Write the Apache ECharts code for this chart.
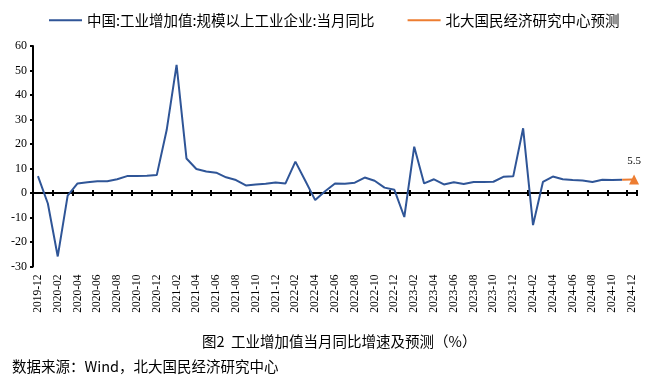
<!DOCTYPE html>
<html>
<head>
<meta charset="utf-8">
<script src="https://cdn.jsdelivr.net/npm/echarts@6/dist/echarts.min.js"></script>
<style>html,body{margin:0;padding:0;background:#fff}#c{width:656px;height:380px}</style>
</head>
<body>
<div id="c"></div>
<script>
const categories = [
 '2019-12',
 '2020-01','2020-02','2020-03','2020-04','2020-05','2020-06','2020-07','2020-08','2020-09','2020-10','2020-11','2020-12',
 '2021-01','2021-02','2021-03','2021-04','2021-05','2021-06','2021-07','2021-08','2021-09','2021-10','2021-11','2021-12',
 '2022-01','2022-02','2022-03','2022-04','2022-05','2022-06','2022-07','2022-08','2022-09','2022-10','2022-11','2022-12',
 '2023-01','2023-02','2023-03','2023-04','2023-05','2023-06','2023-07','2023-08','2023-09','2023-10','2023-11','2023-12',
 '2024-01','2024-02','2024-03','2024-04','2024-05','2024-06','2024-07','2024-08','2024-09','2024-10','2024-11','2024-12'
];
const actualName = '中国:工业增加值:规模以上工业企业:当月同比';
const forecastName = '北大国民经济研究中心预测';
const actualValues = [
 6.9,
 -4.3,-25.9,-1.1,3.9,4.4,4.8,4.8,5.6,6.9,6.9,7.0,7.3,
 25.7,52.3,14.1,9.8,8.8,8.3,6.4,5.3,3.1,3.5,3.8,4.3,
 3.9,12.8,5.0,-2.9,0.7,3.9,3.8,4.2,6.3,5.0,2.2,1.3,
 -9.8,18.9,3.9,5.6,3.5,4.4,3.7,4.5,4.5,4.6,6.6,6.8,
 26.4,-13.1,4.5,6.7,5.6,5.3,5.1,4.5,5.4,5.3,5.4,null
];
const forecastValues = [
 null,
 null,null,null,null,null,null,null,null,null,null,null,null,
 null,null,null,null,null,null,null,null,null,null,null,null,
 null,null,null,null,null,null,null,null,null,null,null,null,
 null,null,null,null,null,null,null,null,null,null,null,null,
 null,null,null,null,null,null,null,null,null,null,5.4,5.5
];
const yTicks = { min: -30, max: 60, interval: 10 };
const titleText = '图2  工业增加值当月同比增速及预测（%）';
const sourceText = '数据来源：Wind，北大国民经济研究中心';

const chart = echarts.init(document.getElementById('c'), null, { renderer: 'canvas' });
const serif = 'Liberation Serif, Times New Roman, serif';
const cjk = 'Noto Sans CJK SC';
const blue = '#2F5597';
const orange = '#ED7D31';

const forecastData = forecastValues.map((v, i) => {
  if (v == null) return null;
  if (i === categories.length - 1) {
    return {
      value: v, symbol: 'triangle', symbolSize: 10, symbolOffset: [2, 0],
      label: { show: true, position: 'top', distance: 8, color: '#000', fontFamily: serif, fontSize: 11 }
    };
  }
  return { value: v, symbol: 'none' };
});

const gridBox = { left: 33, right: 19, top: 46, bottom: 113.5 };
const tickStyle = { color: '#000', width: 2 };

chart.setOption({
  animation: false,
  backgroundColor: '#fff',
  grid: [Object.assign({}, gridBox), Object.assign({}, gridBox)],
  legend: {
    top: 8, left: 44, itemWidth: 33, itemHeight: 2, itemGap: 33,
    textStyle: { fontFamily: cjk, fontSize: 14.5, color: '#000' },
    data: [{ name: actualName, icon: 'rect' }, { name: forecastName, icon: 'rect' }]
  },
  xAxis: [
    {
      type: 'category', gridIndex: 0, data: categories, boundaryGap: true, position: 'bottom',
      axisLine: { show: false, onZero: false }, axisTick: { show: false },
      axisLabel: { interval: 1, rotate: 90, fontFamily: serif, fontSize: 11.5, color: '#000', margin: 8 }
    },
    {
      type: 'category', gridIndex: 0, data: categories, boundaryGap: true, position: 'top',
      axisLine: { show: true, onZero: true, lineStyle: tickStyle },
      axisTick: { show: true, interval: 1, length: 3, inside: true, lineStyle: tickStyle },
      axisLabel: { show: false }
    },
    {
      type: 'category', gridIndex: 1, data: categories, boundaryGap: true, position: 'top',
      axisLine: { show: true, onZero: true, lineStyle: tickStyle },
      axisTick: { show: true, interval: 1, length: 3, inside: false, lineStyle: tickStyle },
      axisLabel: { show: false }
    }
  ],
  yAxis: [
    {
      type: 'value', gridIndex: 0, min: yTicks.min, max: yTicks.max, interval: yTicks.interval,
      axisLine: { show: true, onZero: false, lineStyle: tickStyle },
      axisTick: { show: true, length: 3, lineStyle: tickStyle },
      splitLine: { show: false },
      axisLabel: { fontFamily: serif, fontSize: 12, color: '#000', margin: 6 }
    },
    {
      type: 'value', gridIndex: 1, min: yTicks.min, max: yTicks.max, interval: yTicks.interval,
      axisLine: { show: false, onZero: false }, axisTick: { show: false },
      splitLine: { show: false }, axisLabel: { show: false }
    }
  ],
  series: [
    {
      name: actualName, type: 'line', xAxisIndex: 0, yAxisIndex: 0, data: actualValues, symbol: 'none',
      lineStyle: { color: blue, width: 2 }, itemStyle: { color: blue }, z: 3
    },
    {
      name: forecastName, type: 'line', xAxisIndex: 0, yAxisIndex: 0, data: forecastData, symbol: 'none',
      lineStyle: { color: orange, width: 2 }, itemStyle: { color: orange }, z: 4
    }
  ],
  graphic: [
    { type: 'text', left: 202, top: 334, style: { text: titleText, font: '14.5px ' + cjk, fill: '#000' } },
    { type: 'text', left: 12, top: 359, style: { text: sourceText, font: '14.5px ' + cjk, fill: '#000' } }
  ]
});
</script>
</body>
</html>
